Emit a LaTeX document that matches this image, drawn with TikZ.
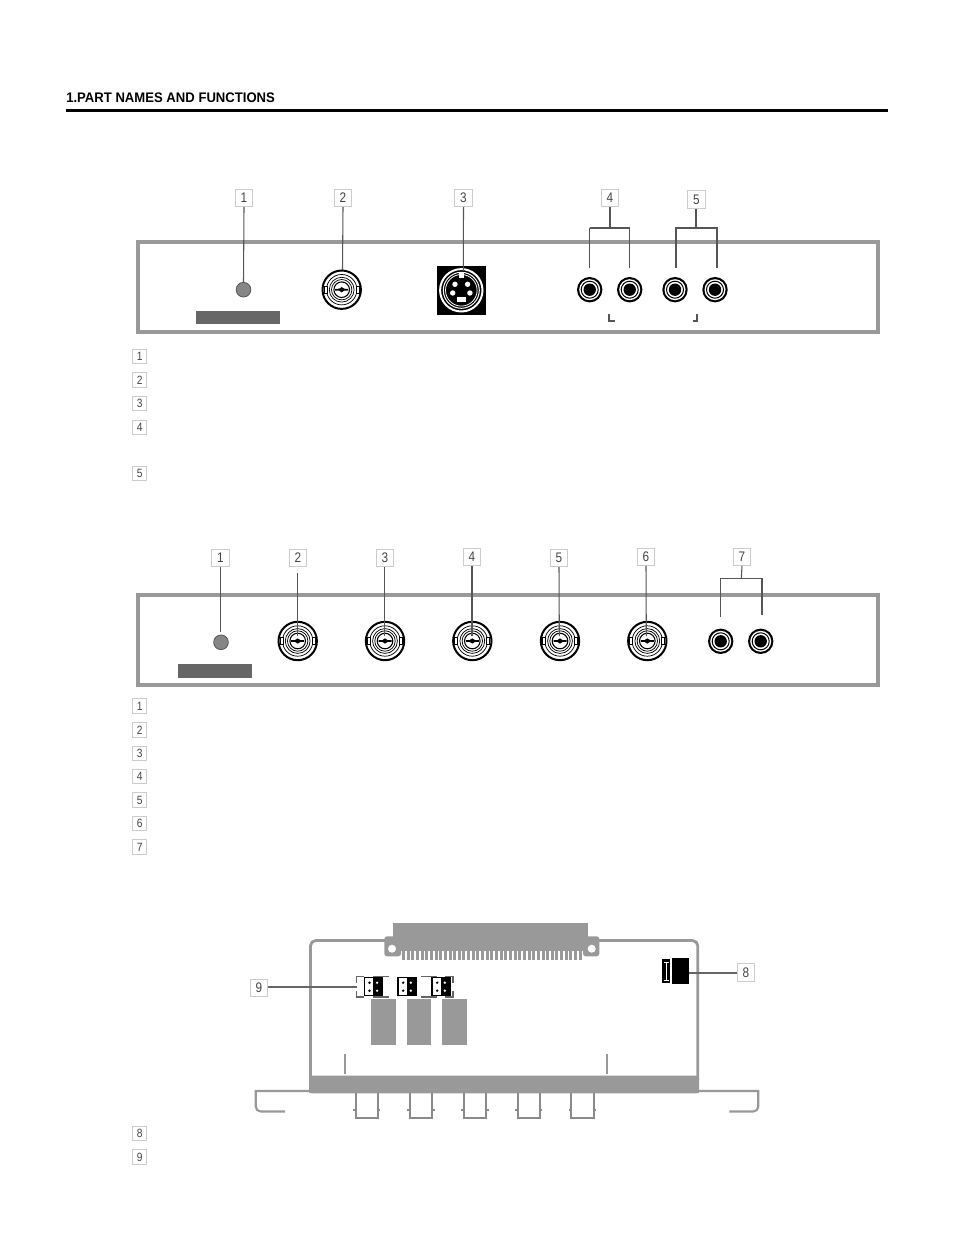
\documentclass[tikz,border=0pt]{standalone}
\usepackage{fontspec}
\setmainfont{Liberation Sans}
\newfontfamily\titlefont[FakeStretch=0.945]{Liberation Sans}
\newfontfamily\tagfont[FakeStretch=0.85]{Liberation Sans}
\definecolor{pgray}{HTML}{999999}
\definecolor{dgray}{HTML}{666666}
\definecolor{lgray}{HTML}{555555}
\definecolor{tgray}{HTML}{CCCCCC}
\definecolor{tink}{HTML}{444444}
\tikzset{
  panel/.style={draw=pgray,line width=3pt},
  tagbox/.style={draw=tgray,fill=white,line width=0.75pt,minimum size=13.1pt,inner sep=0pt,text=tink,font=\tagfont\fontsize{10.4pt}{11pt}\selectfont},
  sidetag/.style={draw=tgray,fill=white,line width=0.75pt,minimum size=10.6pt,inner sep=0pt,text=tink,font=\tagfont\fontsize{9pt}{10pt}\selectfont},
  lead/.style={draw=lgray,line width=0.8pt},
  leadb/.style={draw=lgray,line width=1.3pt},
  ledlamp/.style={circle,draw=lgray,fill=gray!95,line width=0.6pt,minimum size=11pt,inner sep=0pt},
  plate/.style={fill=dgray,draw=none},
  boardline/.style={draw=pgray,line width=2.1pt},
  stubline/.style={draw=pgray!90!black,line width=1.5pt},
  bnc/.pic={
    \fill[white] (0,0) circle[radius=19.8];
    \draw[black,line width=1.5pt] (0,0) circle[radius=19.2];
    \draw[black,line width=0.55pt] (0,0) circle[radius=15.2];
    \draw[black,line width=0.55pt] (0,0) circle[radius=12.4];
    \draw[black,line width=0.55pt] (0,0) circle[radius=10.2];
    \draw[black,line width=0.8pt] (0,0) circle[radius=7.8];
    \draw[black,line width=0.5pt,fill=white] (-17.5,-3.5) rectangle (-14.5,3.5);
    \draw[black,line width=0.5pt,fill=white] (14.5,-3.5) rectangle (17.5,3.5);
    \fill[black] (-6.5,-0.8) -- (-2.5,-1) -- (0,-2.6) -- (2.5,-1) -- (6.5,-0.8) -- (6.5,0.8) -- (2.5,1) -- (0,2.6) -- (-2.5,1) -- (-6.5,0.8) -- cycle;
  },
  rcajack/.pic={
    \fill[black] (0,0) circle[radius=12.7];
    \fill[white] (0,0) circle[radius=10.5];
    \draw[black,line width=0.75pt] (0,0) circle[radius=8.5];
    \fill[black] (0,0) circle[radius=6.2];
  },
  jumperblock/.pic={
    \draw[black,line width=1.1pt,fill=white] (0,0) rectangle (18,18);
    \fill[black] (9,0) rectangle (18,18);
    \fill[black] (5.2,5) circle[radius=1.3] (5.2,13) circle[radius=1.3];
    \fill[white] (12.8,5) circle[radius=1.3] (12.8,13) circle[radius=1.3];
  },
  stubpin/.pic={
    \draw[stubline] (0,0) -- (0,24.5) -- (22.3,24.5) -- (22.3,0);
    \draw[stubline] (-2.5,17.3) -- (0,17.3) (22.3,17.3) -- (24.8,17.3);
  },
}
\begin{document}
\begin{tikzpicture}[x=0.75pt,y=-0.75pt]
\useasboundingbox (0,0) rectangle (954,1237);

% heading
\node[anchor=base west,inner sep=0pt,font=\titlefont\bfseries\fontsize{10.4pt}{12pt}\selectfont] (title) at (66,102.5) {1.PART NAMES AND FUNCTIONS};
\fill[black] (66,109) rectangle (888,112);

% ---------- first panel
\draw[panel] (138,242) rectangle (878,331.8);
\node[plate,minimum width=63pt,minimum height=9.8pt,inner sep=0pt] (pa) at (238,317.5) {};
\node[ledlamp] (ledA) at (243.5,289.7) {};
\pic at (341.7,289.7) {bnc};
\fill[black] (437,266) rectangle (485.7,315);
\begin{scope}[shift={(461.3,290.3)}]
  \draw[white,line width=1.5pt] (0,0) circle[radius=21.2];
  \draw[white,line width=0.75pt] (0,0) circle[radius=18];
  \draw[white,line width=0.6pt] (0,0) circle[radius=15.8];
  \fill[white] (-2.8,-17) rectangle (2.8,-12.5);
  \fill[white] (-4.4,6.4) rectangle (4.4,12);
  \fill[white] (-6.3,-6) circle[radius=2.7] (6.3,-6) circle[radius=2.7] (-8.6,2.7) circle[radius=2.7] (8.6,2.7) circle[radius=2.7];
\end{scope}
\pic at (589.7,289.7) {rcajack};
\pic at (629.7,289.7) {rcajack};
\pic at (675,289.7) {rcajack};
\pic at (715,289.7) {rcajack};
\draw[draw=lgray,line width=1pt] (609,314.3) -- (609,321) -- (615,321);
\draw[draw=lgray,line width=1pt] (692.5,321) -- (697,321) -- (697,314.3);

\node[tagbox] (a1) at (244,198) {1};
\node[tagbox] (a2) at (343,198) {2};
\node[tagbox] (a3) at (463.5,198) {3};
\node[tagbox] (a4) at (610,198) {4};
\node[tagbox] (a5) at (696.3,199.7) {5};
\coordinate (a2e) at (342.5,270);
\coordinate (a3e) at (463.3,270);
\coordinate (a4l) at (589.5,268);
\coordinate (a4r) at (629.5,268);
\coordinate (a5l) at (676,268);
\coordinate (a5r) at (717,268);
\coordinate (a4j) at (610,227.7);
\coordinate (a5j) at (696.3,228.2);
\draw[lead] (a1.south) -- (ledA.north);
\draw[lead] (a2.south) -- (a2e);
\draw[lead] (a3.south) -- (a3e);
\draw[leadb] (a4.south) -- (a4j);
\draw[leadb] (a4l |- a4j) -- (a4r |- a4j);
\draw[lead] (a4l |- a4j) -- (a4l);
\draw[lead] (a4r |- a4j) -- (a4r);
\draw[leadb] (a5.south) -- (a5j);
\draw[leadb] (a5l) -- (a5l |- a5j) -- (a5r |- a5j) -- (a5r);

\node[sidetag] at (139.7,356.3) {1};
\node[sidetag] at (139.7,380) {2};
\node[sidetag] at (139.7,403.7) {3};
\node[sidetag] at (139.7,427.7) {4};
\node[sidetag] at (139.7,473.5) {5};

% ---------- second panel
\draw[panel] (138,594.7) rectangle (878,685.3);
\node[plate,minimum width=55.5pt,minimum height=10.3pt,inner sep=0pt] (pb) at (215,670.8) {};
\node[ledlamp] (ledB) at (221,642.3) {};
\pic at (297.7,641) {bnc};
\pic at (385,641) {bnc};
\pic at (472.3,641) {bnc};
\pic at (560,641) {bnc};
\pic at (647.3,641) {bnc};
\pic at (720.7,641.3) {rcajack};
\pic at (760.7,641.3) {rcajack};

\node[tagbox] (b1) at (220.3,558) {1};
\node[tagbox] (b2) at (298,558) {2};
\node[tagbox] (b3) at (385,558) {3};
\node[tagbox] (b4) at (472,557) {4};
\node[tagbox] (b5) at (559,558) {5};
\node[tagbox] (b6) at (646,557) {6};
\node[tagbox] (b7) at (742,557) {7};
\coordinate (b2s) at (297.5,573.3);
\coordinate (b2e) at (297.5,636);
\coordinate (b3e) at (384.5,636);
\coordinate (b4e) at (472,636);
\coordinate (b5e) at (559.3,636);
\coordinate (b6e) at (646.3,636);
\coordinate (b7j) at (741.3,578.3);
\coordinate (b7l) at (720.7,616.7);
\coordinate (b7r) at (762,614.7);
\coordinate (b1e) at (220.3,631.7);
\draw[lead] (b1.south) -- (b1e);
\draw[lead] (b2s) -- (b2e);
\draw[lead] (b3.south -| b3e) -- (b3e);
\draw[leadb] (b4.south) -- (b4e);
\draw[lead] (b5.south) -- (b5e);
\draw[lead] (b6.south) -- (b6e);
\draw[lead] (b7.south) -- (b7j);
\draw[lead] (b7l) -- (b7l |- b7j) -- (b7r |- b7j);
\draw[leadb] (b7r |- b7j) -- (b7r);

\node[sidetag] at (139.7,706) {1};
\node[sidetag] at (139.7,730) {2};
\node[sidetag] at (139.7,753.5) {3};
\node[sidetag] at (139.7,776.5) {4};
\node[sidetag] at (139.7,800) {5};
\node[sidetag] at (139.7,823.5) {6};
\node[sidetag] at (139.7,847) {7};

% ---------- board
\draw[boardline,rounded corners=4pt] (310.5,1080) -- (310.5,940.5) -- (697.8,940.5) -- (697.8,1080);
% edge connector
\fill[pgray] (393,923) rectangle (588,951);
\fill[pgray,rounded corners=2pt] (384.3,936.3) -- (384.3,956.3) -- (401,956.3) -- (401,936.3) -- cycle;
\fill[pgray,rounded corners=2pt] (583,936.3) -- (583,956.3) -- (599.3,956.3) -- (599.3,936.3) -- cycle;
\fill[white] (392,948.7) circle[radius=4] (591.7,948.7) circle[radius=4];
\foreach \i in {0,...,38}{
  \fill[pgray] ({402+\i*4.65},951) rectangle ({405+\i*4.65},960.3);
}
% gray blocks
\fill[pgray] (371,999) rectangle (396,1044.7);
\fill[pgray] (407,999) rectangle (431,1044.7);
\fill[pgray] (442,999) rectangle (467,1044.7);
% jumpers
\draw[draw=dgray,line width=1pt] (364,976.5) -- (356.5,976.5) -- (356.5,983);
\draw[draw=dgray,line width=1pt] (364,997) -- (356.5,997) -- (356.5,990.5);
\draw[draw=dgray,line width=1pt] (445,976.5) -- (453,976.5) -- (453,983);
\draw[draw=dgray,line width=1pt] (445,997) -- (453,997) -- (453,990.5);
\draw[draw=dgray,line width=1pt] (373,976.5) -- (389,976.5) (421,976.5) -- (437,976.5) (373,997) -- (389,997) (421,997) -- (437,997);
\pic at (364.3,977.7) {jumperblock};
\pic at (398,977.7) {jumperblock};
\pic at (432,977.7) {jumperblock};
% item 8 part
\fill[black] (662,959) rectangle (670,982.7);
\draw[white,line width=0.6pt] (663.5,962) -- (669,962) (666.5,962) -- (666.5,980) (663.5,980) -- (669,980);
\fill[black] (672,958) rectangle (689,983.7);
\coordinate (p8) at (689,972.7);
\coordinate (p9) at (356.5,986.7);
\node[tagbox] (c8) at (746,972.5) {8};
\node[tagbox] (c9) at (259,988) {9};
\draw[leadb,draw=dgray] (p8) -- (p8 -| c8.west);
\draw[leadb,draw=dgray] (p9 -| c9.east) -- (p9);
% bottom
\draw[boardline,line width=1.6pt] (345,1054) -- (345,1074);
\draw[boardline,line width=1.6pt] (606.7,1054) -- (606.7,1074);
\fill[pgray,rounded corners=2pt] (309,1093.3) -- (309,1075.7) -- (699,1075.7) -- (699,1093.3) -- cycle;
\fill[pgray] (309,1080) rectangle (699,1093.3);
\draw[boardline,line width=1.6pt] (309,1091) -- (255.7,1091) -- (255.7,1106.5) arc[start angle=180,end angle=90,radius=5] -- (285,1111.5);
\draw[boardline,line width=1.6pt] (699,1091) -- (758.3,1091) -- (758.3,1106.5) arc[start angle=0,end angle=90,radius=5] -- (729.3,1111.5);
\pic at (355.5,1093) {stubpin};
\pic at (409.7,1093) {stubpin};
\pic at (463.7,1093) {stubpin};
\pic at (517.5,1093) {stubpin};
\pic at (571.3,1093) {stubpin};

\node[sidetag] at (139.7,1133.5) {8};
\node[sidetag] at (139.7,1157) {9};
\end{tikzpicture}
\end{document}
